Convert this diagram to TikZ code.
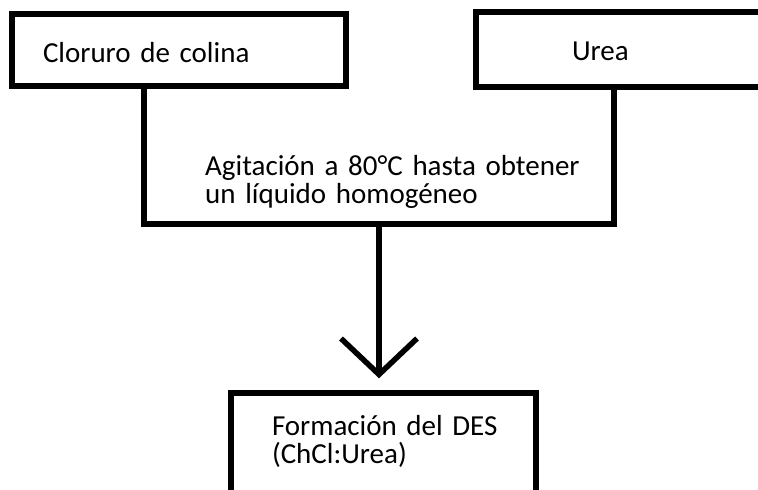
\documentclass[tikz,border=0pt]{standalone}
\usepackage{fontspec}
\setmainfont{Carlito}
\usetikzlibrary{calc}
\usetikzlibrary{arrows.meta}
\newcommand{\lineColor}{black}
\newcommand{\boxFont}{\fontsize{29}{28}\selectfont}
\tikzset{box/.style = {draw=\lineColor, line width=5.5pt, inner sep=0pt, font=\boxFont, align=left}}
\tikzset{link/.style = {\lineColor, line width=5.5pt}}

\begin{document}
\begin{tikzpicture}[x=1pt, y=-1pt]
    \useasboundingbox (0,0) rectangle (758,490);

    \node[box, minimum width=334pt, minimum height=72pt, text width=272pt,
          text height=24pt, text depth=0pt] (cloruro) at (179,50) {Cloruro de colina};
    % this box runs off the right edge, so only three sides are drawn
    \node[box, draw=none, outer sep=0pt, minimum width=282pt, minimum height=75pt, text width=90pt,
          text height=21pt, text depth=0pt] (urea) at (617,49.5) {Urea};
    \draw[link] (urea.north east) -- (urea.north west) -- (urea.south west) -- (urea.south east);
    \node[box, minimum width=305pt, minimum height=120pt, text width=223pt,
          text height=24pt, text depth=60pt] (des) at (383.5,453) {Formación~del~DES\\(ChCl:Urea)};
    \node[font=\boxFont, inner sep=0pt, text width=400pt, align=left, anchor=base west]
          (agitacion) at (205,175) {Agitación a 80°C hasta obtener\\un líquido homogéneo};

    \coordinate (left) at (144,224);
    \coordinate (right) at (614,224);
    \coordinate (join) at ($(left)!0.5!(right)$);

    \draw[link] (cloruro.south -| left) -- (left) -- (right) -- (urea.south -| right);
    % the arrow stops a little above the last box
    \draw[link, -{Straight Barb[length=36pt, width=76pt]}, shorten >=12pt] (join) -- (join |- des.north);
\end{tikzpicture}
\end{document}
